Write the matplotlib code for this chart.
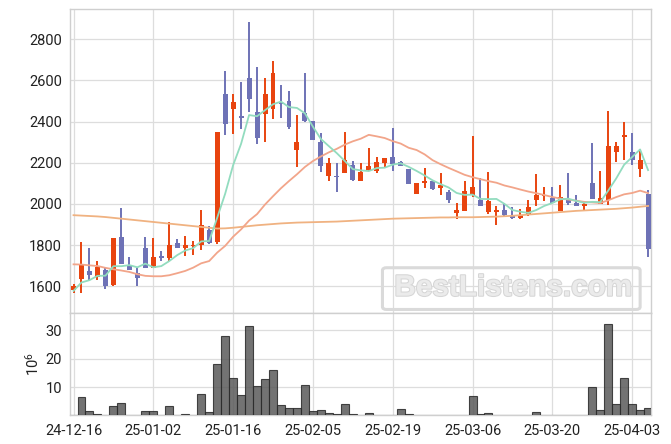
import matplotlib
matplotlib.use("Agg")
import matplotlib.pyplot as plt
from matplotlib.patches import FancyBboxPatch
import matplotlib.patheffects as pe
import numpy as np
import pandas as pd

plt.rcParams['font.family'] = ['Roboto', 'DejaVu Sans']
plt.rcParams['mathtext.fontset'] = 'custom'
plt.rcParams['mathtext.rm'] = 'Roboto'
plt.rcParams['mathtext.it'] = 'Roboto'
plt.rcParams['mathtext.bf'] = 'Roboto'

tick_labels = ['24-12-16', '25-01-02', '25-01-16', '25-02-05',
               '25-02-19', '25-03-06', '25-03-20', '25-04-03']

opens = [1582, 1637, 1672, 1645, 1677, 1606, 1837, 1703, 1663, 1784,
         1690, 1745, 1737, 1811, 1787, 1794, 1800, 1871, 1815, 2533,
         2461, 2428, 2611, 2448, 2437, 2461, 2492, 2500, 2263, 2440,
         2403, 2299, 2137, 2137, 2148, 2189, 2109, 2163, 2162, 2200,
         2227, 2205, 2170, 2050, 2101, 2109, 2075, 2059, 1955, 1965,
         2044, 2020, 1959, 1959, 1972, 1947, 1929, 1947, 2017, 2036,
         2030, 1963, 2020, 2005, 1988, 2101, 2001, 2017, 2250, 2327,
         2253, 2172, 2049]
highs = [1609, 1816, 1784, 1722, 1693, 1835, 1981, 1743, 1690, 1840,
         1834, 1771, 1913, 1827, 1844, 1818, 1971, 1892, 2349, 2648,
         2533, 2592, 2886, 2667, 2610, 2693, 2578, 2549, 2430, 2638,
         2405, 2347, 2223, 2200, 2351, 2208, 2197, 2274, 2229, 2222,
         2370, 2210, 2172, 2103, 2173, 2117, 2149, 2067, 2005, 2112,
         2332, 2125, 2154, 1988, 2004, 1983, 1975, 2017, 2145, 2081,
         2081, 2091, 2149, 2043, 2015, 2295, 2161, 2453, 2303, 2400,
         2343, 2269, 2069]
lows = [1569, 1569, 1626, 1629, 1588, 1603, 1706, 1677, 1601, 1688,
        1688, 1722, 1722, 1784, 1747, 1750, 1776, 1806, 1803, 2336,
        2341, 2364, 2446, 2289, 2302, 2411, 2419, 2364, 2180, 2400,
        2313, 2153, 2111, 2056, 2148, 2109, 2109, 2160, 2149, 2181,
        2160, 2182, 2097, 2048, 2077, 2069, 2045, 2005, 1928, 1963,
        2033, 1988, 1952, 1897, 1936, 1928, 1926, 1942, 1991, 2015,
        2002, 1963, 1994, 1988, 1971, 2025, 1998, 1993, 2203, 2211,
        2190, 2130, 1742]
closes = [1601, 1706, 1653, 1693, 1601, 1832, 1706, 1679, 1640, 1690,
          1743, 1735, 1802, 1785, 1802, 1800, 1899, 1811, 2349, 2386,
          2495, 2420, 2509, 2321, 2534, 2638, 2485, 2375, 2300, 2404,
          2313, 2185, 2201, 2129, 2213, 2117, 2155, 2184, 2202, 2222,
          2192, 2186, 2099, 2101, 2112, 2074, 2093, 2019, 1968, 2064,
          2081, 1988, 2015, 1972, 1944, 1931, 1947, 1986, 2043, 2044,
          2002, 2035, 2002, 1988, 1999, 2025, 2028, 2282, 2282, 2335,
          2211, 2214, 1779]
volumes = [0.3, 6.6, 1.6, 0.6, 0.25, 3.4, 4.5, 0.2, 0.2, 1.6,
           1.6, 0.2, 3.4, 0.2, 0.6, 0.2, 7.6, 1.4, 18.2, 28.1,
           13.3, 7.3, 31.6, 10.5, 12.9, 16.1, 3.8, 2.7, 2.7, 10.8,
           1.6, 2.0, 0.9, 0.6, 4.1, 0.6, 0.2, 0.9, 0.2, 0.2,
           0.2, 2.4, 0.6, 0.2, 0.2, 0.0, 0.2, 0.2, 0.2, 0.2,
           6.9, 0.6, 0.9, 0.2, 0.0, 0.0, 0.0, 0.0, 1.3, 0.2,
           0.2, 0.2, 0.2, 0.2, 0.0, 10.2, 1.8, 32.4, 3.9, 13.3,
           4.1, 2.1, 2.7]
# moving-average values before the window is full
ma5_head = [1577, 1618, 1629, 1650]
ma20_head = [1706, 1705, 1701, 1698, 1689, 1682, 1676, 1669, 1658, 1650,
             1648, 1648, 1653, 1663, 1674, 1690, 1711, 1722, 1763]
ma_long = [1945, 1943, 1941, 1939, 1936, 1932, 1928, 1924, 1920, 1916,
           1912, 1908, 1904, 1900, 1896, 1892, 1888, 1884, 1880, 1881,
           1884, 1888, 1892, 1896, 1899, 1902, 1905, 1907, 1909, 1910,
           1911, 1912, 1913, 1914, 1916, 1918, 1920, 1922, 1924, 1926,
           1928, 1929, 1930, 1931, 1932, 1933, 1934, 1934, 1935, 1935,
           1935, 1936, 1937, 1938, 1940, 1942, 1945, 1948, 1951, 1954,
           1957, 1960, 1963, 1966, 1968, 1970, 1972, 1974, 1976, 1979,
           1982, 1986, 1990]

UP = '#e8440f'
DOWN = '#6e72b6'

n = len(closes)
x = np.arange(n)
o = np.array(opens, float)
c = np.array(closes, float)
h = np.array(highs, float)
l = np.array(lows, float)
cs = pd.Series(c)
ma5 = cs.rolling(5).mean().to_numpy()
ma5[:len(ma5_head)] = ma5_head
ma20 = cs.rolling(20).mean().to_numpy()
ma20[:len(ma20_head)] = ma20_head

fig = plt.figure(figsize=(6.71, 4.44), dpi=100)
ax = fig.add_axes([0.1048, 0.2944, 0.8658, 0.6846])
axv = fig.add_axes([0.1048, 0.0642, 0.8658, 0.2302], sharex=ax)

grid_c = '#dddddd'
for a in (ax, axv):
    a.set_axisbelow(True)
    a.grid(True, color=grid_c, lw=0.9)
    for s in a.spines.values():
        s.set_color('#cfcfcf')
        s.set_linewidth(1.0)
    a.tick_params(length=0, labelsize=10.5, colors='#222222', pad=6)

cols = [UP if cc >= oo else DOWN for oo, cc in zip(o, c)]
ax.vlines(x, l, h, colors=cols, lw=1.4, zorder=2)
body_bottom = np.minimum(o, c)
body_h = np.maximum(np.abs(c - o), 3)
ax.bar(x, body_h, bottom=body_bottom, width=0.62, color=cols, zorder=3, linewidth=0)

ax.plot(x, ma_long, color='#f0b281', lw=1.3, zorder=4)
ax.plot(x, ma20, color='#f2a58a', lw=1.3, zorder=4)
ax.plot(x, ma5, color='#92dcbf', lw=1.3, zorder=4)

ax.set_xlim(-0.4, 72.4)
ax.set_ylim(1468, 2946)
ax.set_yticks([1600, 1800, 2000, 2200, 2400, 2600, 2800])
ax.tick_params(labelbottom=False)

axv.bar(x, volumes, width=1.0, color='#5a5a5a', alpha=0.85,
        edgecolor='#2a2a2a', linewidth=0.8, zorder=3)
axv.set_ylim(0, 36)
axv.set_yticks([10, 20, 30])
axv.set_xticks(np.arange(0, 80, 10))
axv.set_xticklabels(tick_labels)
axv.set_ylabel(r'$10^6$', fontsize=10.5, color='#222222')
axv.yaxis.set_label_coords(-0.049, 0.5)

# watermark
box = FancyBboxPatch((0.573, 0.306), 0.378, 0.088, transform=fig.transFigure,
                     boxstyle='round,pad=0.003,rounding_size=0.006',
                     facecolor='none', edgecolor='#dadada', lw=2.2, zorder=10)
fig.patches.append(box)
fig.text(0.765, 0.352, 'BestListens.com', fontsize=21.4, fontweight='bold',
         family=['Liberation Sans', 'DejaVu Sans'], color='#ebebeb',
         ha='center', va='center', zorder=11,
         path_effects=[pe.withStroke(linewidth=1.5, foreground='#d6d6d6')])

fig.savefig('out.png', dpi=100)
